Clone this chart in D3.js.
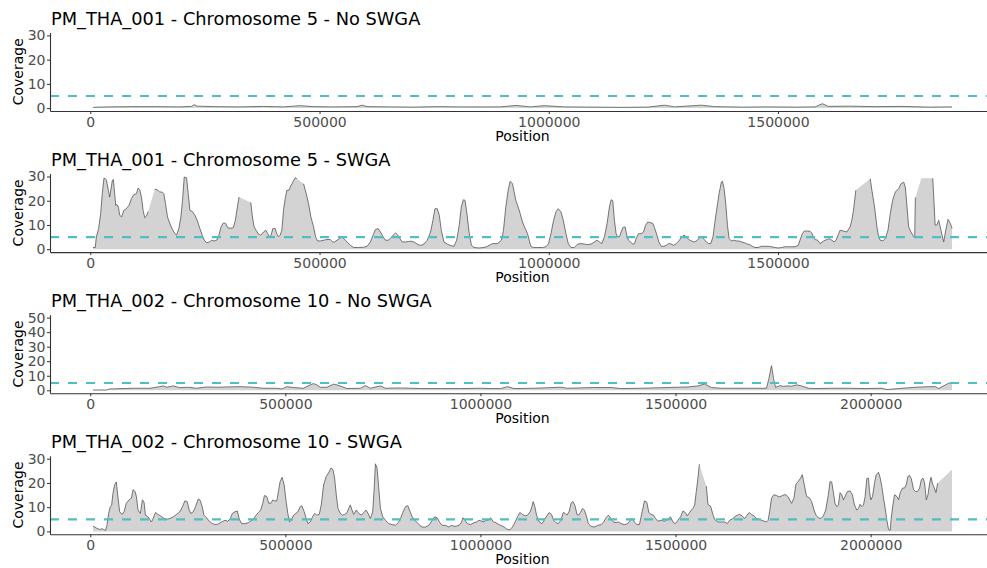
<!DOCTYPE html>
<html>
<head>
<meta charset="utf-8">
<script src="https://cdn.jsdelivr.net/npm/d3@7"></script>
<style>
  body { margin: 0; background: #fff; }
  svg { display: block; }
  text { font-family: "DejaVu Sans", sans-serif; }
</style>
</head>
<body>
<svg id="chart" width="987" height="568"></svg>
<script>
// ---- data ---------------------------------------------------------------
const titles = [
  "PM_THA_001 - Chromosome 5 - No SWGA",
  "PM_THA_001 - Chromosome 5 - SWGA",
  "PM_THA_002 - Chromosome 10 - No SWGA",
  "PM_THA_002 - Chromosome 10 - SWGA"
];
const chr5Ticks = [0, 500000, 1000000, 1500000];
const chr10Ticks = [0, 500000, 1000000, 1500000, 2000000];
const yTicks30 = [0, 10, 20, 30];
const yTicks50 = [0, 10, 20, 30, 40, 50];
const yLimits = [30, 30, 50, 30];
const threshold = 5;

// [position (bp), mean coverage]; null = above the plotted limit
const chr5NoSwga = [[5800,0.3],[42300,0.5],[93300,0.6],[144400,0.6],[195400,0.5],[220900,0.7],[226700,1.4],[233300,0.8],[268300,0.6],[326600,0.5],[377700,0.7],[421400,0.5],[457900,1.0],[487000,0.6],[530800,0.5],[581800,0.6],[592800,1.2],[603700,0.6],[654700,0.5],[705800,0.4],[756800,0.6],[807800,0.5],[851600,0.5],[894400,0.5],[928200,1.1],[961000,0.5],[990200,1.0],[1033900,0.5],[1092200,0.4],[1157800,0.3],[1216100,0.4],[1252600,1.2],[1274500,0.5],[1332800,1.2],[1362000,0.6],[1420300,0.4],[1478600,0.5],[1536900,0.4],[1580700,0.5],[1596800,1.8],[1609900,0.7],[1653700,0.8],[1712000,0.6],[1770300,0.7],[1828600,0.4],[1879600,0.5]];

const chr5Swga = [[5800,0.7],[10900,0.7],[13100,5],[18200,8.5],[22600,14.7],[26200,23],[29900,29.4],[35000,28.7],[39400,24.3],[42300,21.5],[45900,25.6],[48100,28.4],[50300,28.8],[53200,22.9],[55400,18.1],[58300,18.4],[61200,17.4],[64200,14],[68500,13.3],[72900,16],[78700,16.7],[84600,18.1],[89700,20.9],[94800,22.5],[100600,22.9],[104300,25.2],[107900,24.6],[111600,21.5],[115200,16],[118800,13],[122500,13.6],[126100,15.5],[133400,null],[140700,24.8],[148000,24.3],[151700,23.6],[156800,23.6],[160400,22.9],[164000,18.8],[168400,13.3],[173500,10.6],[179400,8.1],[184500,6.4],[188100,5.8],[193200,8.5],[197600,13.3],[201200,20.2],[204900,29.8],[210000,29.5],[213600,22.9],[217300,16],[222400,15.6],[228200,14],[233300,11.9],[239100,8.5],[244200,5.8],[248600,3.7],[253700,2.6],[259600,3],[264700,3.7],[270500,3.4],[275600,3.7],[280700,5.8],[285100,9.2],[290200,10.8],[295300,10.6],[299700,8.9],[304800,8.6],[312100,8.9],[316400,11.9],[320800,17.4],[324400,21.5],[337600,null],[350000,19.3],[353600,13.3],[357300,9.2],[361600,7.8],[366700,6.2],[371800,5.8],[377700,7.1],[382800,7.8],[387200,6.4],[390800,5.1],[394400,5.8],[398100,8.5],[403200,8.5],[406800,6.4],[410500,5.1],[414100,5.8],[417800,7.8],[421400,16],[425100,20.9],[428700,24.3],[433100,24.3],[436000,25.6],[441800,27.7],[446900,29.5],[450600,29.1],[457900,null],[465200,27],[471000,22.9],[476100,18.8],[481200,13.3],[487000,9.2],[491400,5.1],[495800,3.4],[501600,3.4],[508900,3.7],[516200,4],[523500,4],[528600,3],[533000,3],[538100,3.7],[543900,4.4],[547600,5.1],[552700,4.4],[560000,3],[567200,1.6],[574500,0.7],[585500,0.7],[596400,0.8],[603700,1.2],[611000,3],[616800,5.8],[621900,8.1],[627800,8.5],[632900,7.1],[638700,5.1],[643800,3.7],[649600,3.7],[654700,4.4],[660600,5.8],[665700,6.7],[670800,5.8],[675100,4.4],[680200,3],[687500,3],[694800,3.2],[699900,3.3],[705800,3],[713100,2.1],[720400,1.5],[727600,2.1],[734900,3.7],[742200,7.1],[747300,11.9],[751700,16.7],[756800,16.7],[761200,14],[765600,7.8],[771400,3],[778700,2.1],[786000,1.5],[793300,1.2],[799100,3.7],[804200,9.2],[809300,17.4],[813700,20.4],[817300,20.2],[821000,15.4],[826100,7.1],[831200,1.6],[837000,0.7],[848000,0.5],[858900,0.7],[866200,1.2],[877100,2.3],[888100,2.3],[896800,3.7],[901200,7.8],[906300,17.4],[911400,24.3],[915800,28],[920900,27],[924500,23.6],[928100,20.2],[933200,17.4],[937600,14.7],[942700,11.2],[947800,8.9],[953700,6.4],[957300,3.7],[961000,1.2],[966100,0.7],[975500,0.7],[986500,0.7],[993800,1],[999600,2.3],[1004700,6.4],[1010500,11.9],[1015600,15.4],[1020700,16.7],[1026600,15.4],[1031700,11.9],[1037500,6.4],[1042600,2.3],[1048500,0.7],[1055700,0.7],[1063000,2.1],[1070300,2.3],[1077600,2.1],[1084900,1.9],[1092200,2.1],[1099500,3],[1105300,3.7],[1110400,3],[1115500,2.3],[1121400,5.1],[1127200,10.6],[1132300,17.4],[1135900,20.4],[1139600,20],[1143200,11.9],[1146900,6.4],[1150500,5.1],[1154200,5.1],[1157800,7.1],[1161400,8.9],[1166600,9.2],[1170200,5.8],[1173900,3.7],[1178200,3],[1183300,2.1],[1187000,2.3],[1190600,4.4],[1195700,6.4],[1201600,6.4],[1206700,7.1],[1211000,9.9],[1216100,11.2],[1221200,11],[1227100,10.6],[1230700,8.9],[1235800,5.8],[1240200,3],[1245300,1.2],[1251100,1.2],[1256200,1.6],[1261300,2.3],[1267200,2.1],[1272300,1.6],[1278100,2.3],[1283200,3.3],[1289100,4.8],[1294900,5.8],[1300000,5.1],[1305100,4],[1310900,3.4],[1318200,3],[1324100,3.7],[1329200,4.8],[1334300,5.1],[1338600,4.1],[1343700,3],[1348800,2.3],[1353200,2.3],[1358300,5.1],[1361900,10.6],[1367100,17.4],[1371400,22.9],[1376500,27.7],[1378700,28.1],[1382400,25],[1386000,18.8],[1389700,9.9],[1393300,4.4],[1398400,3.4],[1403500,3.7],[1409300,3.4],[1414500,3.4],[1420300,3],[1427600,2.6],[1433400,2.1],[1438500,1.9],[1443600,1.2],[1449500,0.7],[1456800,0.7],[1464000,1.2],[1471300,1.2],[1478600,1.2],[1485900,1],[1493200,0.7],[1500500,0.5],[1507800,0.7],[1515100,1],[1522400,1],[1529700,1],[1537000,1],[1544200,1.6],[1547900,3.7],[1553000,6.4],[1557400,7.5],[1562500,7.5],[1569800,7.4],[1573400,6.7],[1577100,5.1],[1580700,4],[1586600,3.7],[1591700,2.3],[1596800,3],[1602600,3.7],[1607700,4],[1611400,4.4],[1617200,3.7],[1622300,3],[1626700,3.7],[1631800,6.2],[1635400,7.8],[1642700,7.5],[1650000,7.1],[1657300,9.2],[1660900,11.9],[1664600,16],[1669700,24.3],[1686500,null],[1701100,29.1],[1704800,24.3],[1710600,17.4],[1715700,9.2],[1719400,5.1],[1723000,3.7],[1728900,3.4],[1734000,4.4],[1739800,7.8],[1744900,14.7],[1750000,20.2],[1755900,23.6],[1763200,25],[1768300,27],[1774100,27.7],[1777800,25.6],[1781400,17.4],[1784900,9.2],[1790000,7.1],[1795900,5.1],[1798100,4.8],[1799600,21.3],[1806100,null],[1812700,29.3],[1824400,null],[1837600,29.3],[1842700,9.9],[1846800,10.1],[1850500,11.9],[1856300,7.1],[1861400,3],[1866500,8.5],[1870900,12.3],[1876000,10.6],[1879600,8.5]];

const chr10NoSwga = [[6900,0.2],[41100,0.2],[49700,0.9],[109700,1.4],[152500,1.4],[178200,2.5],[186800,3.0],[195300,2.1],[212500,3.0],[229600,1.8],[251000,2.1],[272400,1.4],[298100,2.3],[323800,2.1],[349500,2.3],[383800,2.5],[418100,2.1],[443800,1.4],[478000,1.4],[490900,0.9],[503700,2.5],[520900,1.9],[546600,1.4],[563700,3.7],[572300,4.6],[580800,3.7],[589400,2.1],[606500,2.1],[623700,4.2],[632200,3.7],[645100,2.5],[657900,1.2],[692200,1.4],[705000,3.2],[717900,1.4],[743600,3.0],[756500,1.4],[795000,1.6],[846400,1.2],[897800,1.2],[949200,1.2],[1000600,1.4],[1026300,1.2],[1052000,1.2],[1069200,2.5],[1086300,1.2],[1137700,1.4],[1206200,2.1],[1223400,1.4],[1291900,1.9],[1334700,1.9],[1360400,1.2],[1411800,1.4],[1480400,1.9],[1531800,2.3],[1557500,3.0],[1574600,4.4],[1591800,1.9],[1617500,1.4],[1686000,1.4],[1733100,1.4],[1739100,8],[1745900,16.9],[1751100,8],[1756200,2],[1767400,3.2],[1776000,2.7],[1784500,3.0],[1797400,2.8],[1810200,3.7],[1823100,3.0],[1840200,1.4],[1857300,1.2],[1900200,1.4],[1943000,1.4],[1985800,1.2],[2028700,1.4],[2041500,0.5],[2071500,1.2],[2114400,2.1],[2148600,2.5],[2165800,2.5],[2174300,1.2],[2191500,3.7],[2200100,4.9],[2208600,5.3]];

const chr10Swga = [[6900,2.2],[15400,1.4],[24000,0.8],[30800,1.1],[35100,0.7],[39400,0.4],[42800,2.5],[47100,7.4],[51400,10.2],[54800,10.9],[58300,15.8],[62500,19.2],[66800,20.4],[70200,15.1],[75400,8.1],[81400,7],[86500,8.1],[92500,11.6],[99400,13],[105400,13.7],[109700,17.2],[114800,16.5],[118200,14.4],[122500,8.8],[128500,7.4],[133600,13],[137900,12],[141400,6.7],[148200,6],[152500,4.9],[156800,3.9],[161100,5.3],[167100,7.8],[173900,7],[179900,6.4],[186800,5.6],[195300,5],[203900,5.3],[212500,6],[221000,7],[229600,8.1],[236400,10.2],[242400,12.6],[248400,12.3],[253600,8.8],[257900,7.4],[263900,8.1],[269900,10.2],[276700,13.4],[281000,13],[287000,10.2],[291300,6.7],[298100,5.6],[305000,4.2],[313500,3.2],[322100,2.8],[328100,3.1],[336700,3.9],[345200,4.6],[352100,4.2],[358100,5],[364100,7.4],[370900,8.1],[376900,8.4],[382100,5],[388100,3.2],[396600,3.2],[405200,3.6],[411200,4.2],[418100,5],[424900,6.7],[430900,7.8],[436900,8.8],[442100,11.6],[446300,14.8],[452300,14.4],[457500,11.6],[462600,11.6],[467800,13],[472000,12.6],[478000,12.6],[482300,16.5],[486600,20.6],[491700,22.3],[496900,19.2],[502000,12.3],[506300,7.4],[510600,3.9],[514900,4.6],[520900,6.7],[526900,7.4],[532000,8.1],[538000,10.2],[542300,10.6],[548300,8.1],[553400,5.3],[557700,3.2],[563700,3.9],[569700,6],[574800,7.4],[580800,6.7],[586800,7],[592000,10.9],[598000,19.2],[604800,22.7],[610800,24.1],[616800,26.2],[622000,25.5],[626200,22],[630500,15.1],[634800,9.5],[640800,7.4],[646800,6.7],[651900,7],[657900,7.7],[662200,9.5],[666500,10.9],[670800,8.8],[675100,7],[681900,8.8],[687900,7.4],[694800,6.7],[700800,7.8],[706800,8.8],[711900,7.4],[717900,5.3],[723900,8.1],[728200,19.2],[730700,27.9],[735000,26.2],[739300,17.9],[743600,9.5],[749600,6],[756500,4.6],[765000,3.2],[773600,2.8],[782200,2.5],[789000,3.6],[795000,5.3],[801000,7.8],[807900,10.2],[813900,10.6],[819000,8.4],[825000,6],[831900,4.6],[837800,3.6],[844700,2.5],[850700,1.8],[859300,1.8],[867800,2.5],[876400,4.6],[882400,6],[889200,5.6],[896100,3.6],[902100,2.5],[910700,2.5],[919200,1.8],[925200,2.5],[932100,2.1],[938900,2.2],[944900,2.5],[950900,3.6],[955200,5.6],[960300,4.6],[966300,3.2],[974900,2.8],[983500,3.6],[990300,3.9],[996300,4.6],[1003200,4.2],[1009200,3.9],[1013500,4.6],[1019500,4.6],[1026300,5.6],[1033200,3.9],[1039200,3.6],[1047700,2.8],[1052000,2.5],[1060600,1.8],[1069200,0.8],[1076000,0.7],[1082000,1.8],[1088900,3.9],[1094900,6],[1100900,7.8],[1107700,7],[1114600,6.4],[1120600,6.7],[1127400,8.1],[1131700,10.2],[1135100,12.3],[1139400,10.2],[1143700,6.7],[1150500,3.9],[1157400,3.2],[1163400,4.6],[1170200,6.4],[1176200,7.8],[1182200,7],[1187400,4.6],[1193400,3.6],[1199400,3.2],[1206200,4.6],[1212200,7.8],[1217400,7.4],[1221700,6.7],[1227700,8.4],[1232000,11.6],[1237100,12.3],[1242300,10.6],[1247400,7],[1251700,6.7],[1256000,7.8],[1262000,9.5],[1266200,8.8],[1271400,6.4],[1276500,3.2],[1283400,2.1],[1291900,1.8],[1300500,2.5],[1309100,2.8],[1315900,3.9],[1321900,5.6],[1327900,6.7],[1334700,5.3],[1340700,3.9],[1347600,3.6],[1353600,3.9],[1360400,3.2],[1369000,2.8],[1377600,3.2],[1383600,4.6],[1388700,5.3],[1394700,3.9],[1400700,2.8],[1407500,2.8],[1414400,8.1],[1420400,12.6],[1426400,12],[1431500,7.8],[1437500,7],[1443500,6.7],[1448700,5.3],[1454700,4.2],[1463200,4.6],[1471800,4.2],[1480400,5],[1487200,6],[1493200,3.9],[1499200,3.2],[1506100,4.6],[1512900,6],[1518900,8.4],[1524900,7.8],[1530100,6.4],[1536100,7.8],[1540400,8.8],[1544600,9.5],[1548900,10.9],[1553200,16.5],[1557500,22],[1560900,27.7],[1566000,null],[1578800,18.7],[1583100,11.1],[1589800,10.4],[1595900,6.9],[1600200,4.9],[1608600,3.9],[1617200,3.9],[1625800,3.9],[1632600,3.2],[1638600,4.6],[1644600,5],[1651500,6],[1658300,6.7],[1664300,7],[1670600,6.4],[1677100,5.3],[1683100,6.7],[1688300,7.8],[1694300,7],[1701100,6.4],[1707400,5.3],[1713100,5],[1720300,4.6],[1727100,4.2],[1733100,3.9],[1737400,4.6],[1741700,8.8],[1746000,13.7],[1752000,15.1],[1758800,14.8],[1765700,14.2],[1771700,14.6],[1777700,15.1],[1782800,15.1],[1788800,14.2],[1793100,12.8],[1797400,11.6],[1803400,13.7],[1808500,19.5],[1814500,20.6],[1820500,22],[1824800,23.4],[1835900,14.4],[1842800,13.9],[1848800,12.3],[1854800,8.8],[1859900,6.7],[1865900,5.6],[1872800,5.3],[1878800,6.4],[1884800,8.8],[1891600,15.1],[1895900,20.6],[1900200,20.4],[1904500,16],[1908700,11.6],[1913000,10.2],[1917300,10.9],[1921600,16],[1925900,15.1],[1930200,13],[1934500,14.4],[1940500,16.5],[1947300,16.7],[1953300,15.1],[1958500,10.9],[1964500,8.8],[1968800,9.5],[1973000,11.2],[1977300,10.2],[1981600,10.9],[1985900,14.4],[1990200,21.8],[1994500,22],[1997000,16.5],[2000500,13],[2004800,14.4],[2009900,19.9],[2014200,23.4],[2020200,24.4],[2024500,22],[2028700,18.5],[2033000,13.7],[2037300,9.5],[2041600,4.6],[2045800,0.8],[2050100,0.4],[2052700,5.3],[2057000,10.9],[2061300,15.1],[2067300,14.4],[2071600,13],[2075800,16],[2081800,17.9],[2087000,17.9],[2091300,19.2],[2095500,22.7],[2099800,23.1],[2104100,21.8],[2110100,17.2],[2114400,16.5],[2120400,16.5],[2125500,17.9],[2129800,21.3],[2134100,22],[2138300,19.9],[2142600,13],[2146900,15.1],[2151200,19.9],[2154600,22.3],[2158900,19.5],[2163200,17.9],[2167400,16],[2171700,19.9],[2191400,null],[2208600,25.5]];

const panelData = [chr5NoSwga, chr5Swga, chr10NoSwga, chr10Swga];
const panelXTicks = [chr5Ticks, chr5Ticks, chr10Ticks, chr10Ticks];
const panelYTicks = [yTicks30, yTicks30, yTicks50, yTicks30];

// ---- layout -------------------------------------------------------------
const plotLeft = 50, plotRight = 995;
const plotHeight = 78.5, firstBottom = 111, panelStep = 141.1;
const fillColor = "#d3d3d3", lineColor = "#555555";
const axisColor = "#333333", tickTextColor = "#4d4d4d";
const thresholdColor = "#4fbfc4";

const svg = d3.select("#chart");
svg.append("rect").attr("width", 987).attr("height", 568).attr("fill", "#fff");

panelData.forEach((data, i) => {
  const bottom = firstBottom + i * panelStep;
  const top = bottom - plotHeight;
  const valid = data.filter(d => d[1] !== null);

  // 5% expansion on both axes, like the plotting defaults
  const [xMin, xMax] = d3.extent(valid, d => d[0]);
  const xPad = (xMax - xMin) * 0.05;
  const x = d3.scaleLinear().domain([xMin - xPad, xMax + xPad]).range([plotLeft, plotRight]);
  const yLim = yLimits[i];
  const y = d3.scaleLinear().domain([-0.04 * yLim, 1.04 * yLim]).range([bottom, top]);

  const g = svg.append("g");

  // coverage area (values above the limit are dropped) and its outline
  g.append("path")
    .datum(valid)
    .attr("fill", fillColor)
    .attr("d", d3.area().x(d => x(d[0])).y0(y(0)).y1(d => y(d[1])));

  g.append("path")
    .datum(data)
    .attr("fill", "none")
    .attr("stroke", lineColor)
    .attr("stroke-width", 0.8)
    .attr("stroke-linejoin", "round")
    .attr("d", d3.line().defined(d => d[1] !== null).x(d => x(d[0])).y(d => y(d[1])));

  // coverage threshold
  g.append("line")
    .attr("x1", plotLeft).attr("x2", plotRight)
    .attr("y1", y(threshold)).attr("y2", y(threshold))
    .attr("stroke", thresholdColor)
    .attr("stroke-width", 2.2)
    .attr("stroke-dasharray", "9,9");

  // axes
  const xAxis = d3.axisBottom(x)
    .tickValues(panelXTicks[i])
    .tickFormat(d3.format("d"))
    .tickSize(3).tickSizeOuter(0).tickPadding(3);
  const gx = g.append("g").attr("transform", `translate(0,${bottom})`).call(xAxis);

  const yAxis = d3.axisLeft(y)
    .tickValues(panelYTicks[i])
    .tickFormat(d3.format("d"))
    .tickSize(3).tickSizeOuter(0).tickPadding(1.5);
  const gy = g.append("g").attr("transform", `translate(${plotLeft},0)`).call(yAxis);

  [gx, gy].forEach(ax => {
    ax.select(".domain").attr("stroke", axisColor).attr("stroke-width", 1.1);
    ax.selectAll(".tick line").attr("stroke", axisColor).attr("stroke-width", 1);
    ax.selectAll(".tick text")
      .attr("fill", tickTextColor)
      .style("font-size", "14px")
      .style("font-family", "'DejaVu Sans', sans-serif");
  });

  // axis titles and panel title
  g.append("text")
    .attr("x", (plotLeft + plotRight) / 2)
    .attr("y", bottom + 30)
    .attr("text-anchor", "middle")
    .attr("fill", "#000")
    .style("font-size", "14px")
    .text("Position");

  g.append("text")
    .attr("transform", `translate(22.5,${(top + bottom) / 2}) rotate(-90)`)
    .attr("text-anchor", "middle")
    .attr("fill", "#000")
    .style("font-size", "14px")
    .text("Coverage");

  g.append("text")
    .attr("x", 51)
    .attr("y", bottom - 86)
    .attr("fill", "#000")
    .style("font-size", "17.8px")
    .text(titles[i]);
});
</script>
</body>
</html>
